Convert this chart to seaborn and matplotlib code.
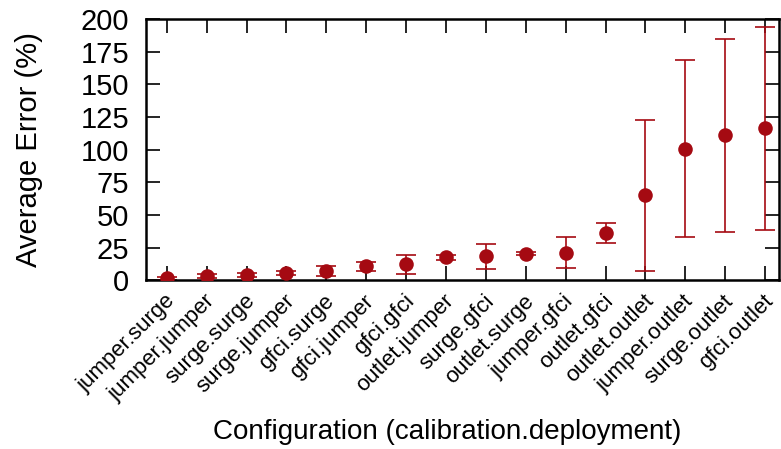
import matplotlib
matplotlib.use("Agg")
import matplotlib.pyplot as plt
import matplotlib.transforms as mtransforms
import seaborn as sns
import numpy as np
import pandas as pd

categories = ["jumper.surge", "jumper.jumper", "surge.surge", "surge.jumper",
              "gfci.surge", "gfci.jumper", "gfci.gfci", "outlet.jumper",
              "surge.gfci", "outlet.surge", "jumper.gfci", "outlet.gfci",
              "outlet.outlet", "jumper.outlet", "surge.outlet", "gfci.outlet"]
avg_error = [1.5, 3.2, 3.8, 5.6, 7.1, 10.5, 12.3, 17.4,
             18.2, 20.4, 21.0, 36.2, 64.9, 100.6, 110.9, 116.2]
err = [1.0, 1.5, 1.5, 1.8, 4.0, 3.5, 7.3, 2.0,
       9.8, 1.5, 12.0, 7.4, 57.6, 67.7, 73.8, 77.9]

sns.set_style("white")
plt.rcParams['font.family'] = ['Liberation Sans', 'DejaVu Sans']
plt.rcParams['text.color'] = 'black'
plt.rcParams['axes.labelcolor'] = 'black'
plt.rcParams['xtick.color'] = 'black'
plt.rcParams['ytick.color'] = 'black'

color = "#A50A12"
df = pd.DataFrame({"pos": np.arange(len(categories)), "avg": avg_error, "err": err})

fig = plt.figure(figsize=(7.81, 4.49), dpi=100)
ax = fig.add_axes([0.187, 0.376, 0.811, 0.582])

ax.errorbar(df["pos"], df["avg"], yerr=df["err"], fmt="none", ecolor=color,
            elinewidth=1.2, capsize=7, capthick=1.2, zorder=2)
sns.scatterplot(data=df, x="pos", y="avg", ax=ax, color=color, s=110,
                edgecolor=color, linewidth=0, zorder=3, legend=False)

ax.set_xlim(-0.52, 15.36)
ax.set_ylim(0, 200)
ax.set_xticks(df["pos"])
ax.set_xticklabels(categories, rotation=45, ha="right", va="center",
                   rotation_mode="anchor", fontsize=16)
ax.set_yticks(np.arange(0, 201, 25))
ax.tick_params(axis="y", labelsize=21, pad=12)
ax.tick_params(axis="both", direction="in", length=10, width=1.2, color="black",
               top=True, right=True, bottom=True, left=True)
ax.tick_params(axis="x", pad=10)
for s in ax.spines.values():
    s.set_visible(True)
    s.set_linewidth(1.8)
    s.set_color("black")

offset = mtransforms.ScaledTranslation(0.05, -0.04, fig.dpi_scale_trans)
for lbl in ax.get_xticklabels():
    lbl.set_transform(lbl.get_transform() + offset)

ax.set_xlabel("Configuration (calibration.deployment)", fontsize=20)
ax.set_ylabel("Average Error (%)", fontsize=21)
ax.xaxis.set_label_coords(0.476, -0.53)
ax.yaxis.set_label_coords(-0.162, 0.5)

fig.savefig("out.png", dpi=100)
